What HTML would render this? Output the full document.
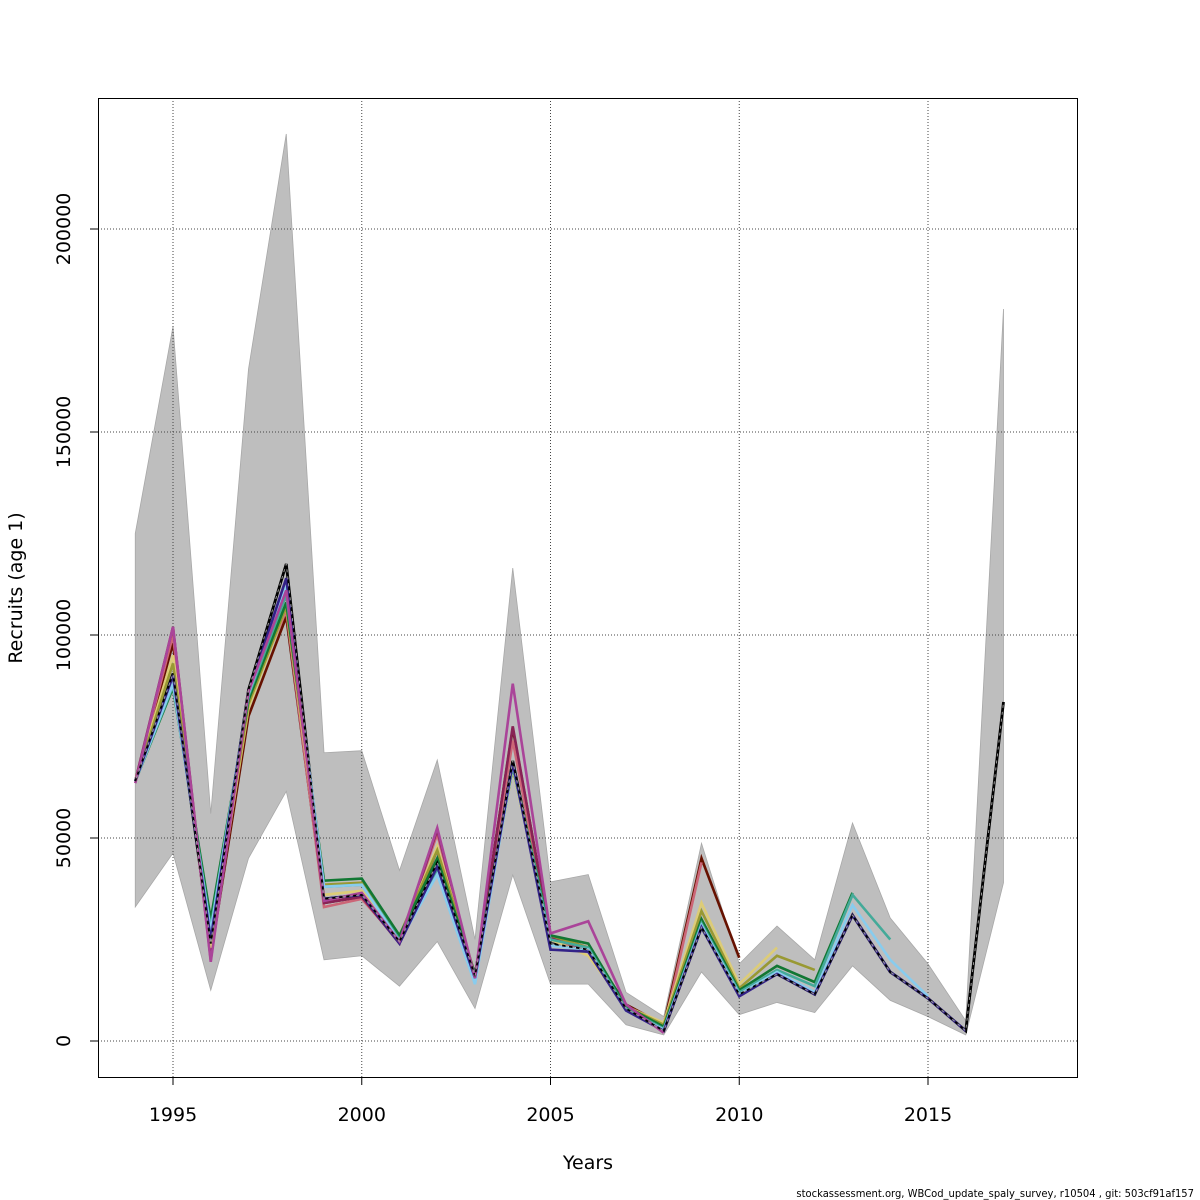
<!DOCTYPE html>
<html><head><meta charset="utf-8"><style>
html,body{margin:0;padding:0;background:#fff;}
svg{display:block;font-family:"DejaVu Sans","Liberation Sans",sans-serif;}
</style></head><body>
<svg id="chart" width="1200" height="1200" viewBox="0 0 1200 1200" xmlns="http://www.w3.org/2000/svg">
<rect width="1200" height="1200" fill="#fff"/>
<g id="band"></g>
<g id="grid"></g>
<g id="series"></g>
<rect x="98.5" y="98.5" width="979" height="979" fill="none" stroke="#000" stroke-width="1"/>
<g id="axes"></g>
<text x="588" y="1169" font-size="19" text-anchor="middle">Years</text>
<text transform="translate(22,588) rotate(-90)" font-size="19" text-anchor="middle">Recruits (age 1)</text>
<text x="1194" y="1197" font-size="10.5" text-anchor="end" transform="translate(1194,0) scale(0.95,1) translate(-1194,0)">stockassessment.org, WBCod_update_spaly_survey, r10504 , git: 503cf91af157</text>
</svg>
<script>
const years = [1994,1995,1996,1997,1998,1999,2000,2001,2002,2003,2004,2005,2006,2007,2008,2009,2010,2011,2012,2013,2014,2015,2016,2017];
const upper = [125000,176000,56000,165500,223400,71000,71500,42000,69200,25000,116500,39200,41000,12000,6000,48700,19000,28300,20000,53700,30300,19000,5000,180300];
const lower = [33000,46300,12500,45000,61500,20000,21000,13500,24500,8000,40900,14000,14000,4000,1500,17000,6500,9500,7000,18500,10000,6000,1500,39000];
const xTicks = [1995,2000,2005,2010,2015];
const yTicks = [0,50000,100000,150000,200000];
const yTickLabels = ["0","50000","100000","150000","200000"];
const seriesNames = ["darkred","rose","wine","sand","olive","green","teal","lightblue","navy","purple"];
const seriesColors = ["#661100","#CC6677","#882255","#DDCC77","#999933","#117733","#44AA99","#88CCEE","#332288","#AA4499"];
const sDarkred  = [64000,98000,21000,80000,104500,34000,35500,25000,47000,16000,77000,26000,23000,9000,4000,45000,20500];
const sRose     = [64000,100000,20500,84000,106000,33000,35000,24500,51000,15500,74000,25000,22500,8500,3000,44000];
const sWine     = [64000,102000,20000,86000,110000,34000,35500,24000,52000,15000,77500,25500,22500,8000,2500];
const sSand     = [64000,95000,23000,82000,107000,36000,37000,25500,48000,16000,67000,25000,21000,8500,4500,34000,14000,23000];
const sOlive    = [64000,93000,24500,83000,107000,38500,39000,26000,47000,16500,68000,26000,23000,8500,4000,32000,13000,21000,17500];
const sGreen    = [64000,87000,30000,84000,108000,39500,40000,26000,45000,16500,67500,26000,24000,8500,3500,30000,12500,18500,14500,36500];
const sTeal     = [64000,87500,28000,85000,110000,38000,38500,25000,42000,15500,68000,25000,23000,8000,3000,29000,12000,17500,13500,36000,25000];
const sLightblue= [64000,88000,27000,85500,112000,38000,38500,24500,41000,14000,68000,23500,22500,7500,2800,28500,11500,17000,12000,33500,20000,11000];
const sNavy     = [64000,90000,25000,86000,114000,35000,36000,24000,43000,15500,68500,22500,22000,7500,2500,28000,11000,16500,11500,31000,17000,10500,2500];
const sPurple   = [63500,102000,19500,86000,111000,34500,36500,24500,52500,15500,88000,26500,29500,9000,2000];
const sBase     = [64000,90500,24000,86500,117500,35000,36000,24500,44000,16000,69000,24000,22500,8000,2500,28000,11500,16500,11500,31000,17000,10500,2500,83500];
const allSeries = [sDarkred,sRose,sWine,sSand,sOlive,sGreen,sTeal,sLightblue,sNavy,sPurple];

const NS="http://www.w3.org/2000/svg";
const X0=98,X1=1077,Y0=1077,Y1=98;
const xMin=1993.013,xMax=2018.947,yMin=-8867,yMax=232266;
function xs(v){return X0+(v-xMin)/(xMax-xMin)*(X1-X0);}
function ys(v){return Y0-(v-yMin)/(yMax-yMin)*(Y0-Y1);}
function mk(tag,attrs,parent){const e=document.createElementNS(NS,tag);for(const k in attrs)e.setAttribute(k,attrs[k]);parent.appendChild(e);return e;}

const bandG=document.getElementById('band');
let pts=years.map((y,i)=>xs(y)+","+ys(upper[i]));
for(let i=years.length-1;i>=0;i--)pts.push(xs(years[i])+","+ys(lower[i]));
const band=mk('polygon',{points:pts.join(" "),fill:"#bebebe",stroke:"#a8a8a8","stroke-width":"0.8"},bandG);



const gridG=document.getElementById('grid');
xTicks.forEach(t=>{const l=mk('line',{x1:xs(t),x2:xs(t),y1:Y1,y2:Y0,stroke:"#444","stroke-width":"1","stroke-dasharray":"1,2"},gridG);

});
yTicks.forEach(t=>{const l=mk('line',{x1:X0,x2:X1,y1:ys(t),y2:ys(t),stroke:"#444","stroke-width":"1","stroke-dasharray":"1,2"},gridG);

});

const sG=document.getElementById('series');
const basePts=sBase.map((v,i)=>xs(years[i])+","+ys(v)).join(" ");
const bu=mk('polyline',{points:basePts,fill:"none",stroke:"#000","stroke-width":"2.8"},sG);


allSeries.forEach((s,k)=>{
  const p=s.map((v,i)=>xs(years[i])+","+ys(v)).join(" ");
  const pl=mk('polyline',{points:p,fill:"none",stroke:seriesColors[k],"stroke-width":"2.6"},sG);
  
  
});
const bd=mk('polyline',{points:basePts,fill:"none",stroke:"#000","stroke-width":"1.8","stroke-dasharray":"4,3"},sG);


const bg=mk('polyline',{points:basePts,fill:"none",stroke:"#9a9a9a","stroke-width":"1","stroke-dasharray":"3,4","stroke-dashoffset":"4"},sG);



const aG=document.getElementById('axes');
xTicks.forEach(t=>{const l=mk('line',{x1:xs(t),x2:xs(t),y1:Y0,y2:Y0+8,stroke:"#000"},aG);


const tx=mk('text',{x:xs(t),y:1121,"font-size":"19","text-anchor":"middle"},aG);tx.textContent=t;

});
yTicks.forEach((t,i)=>{const l=mk('line',{x1:X0-8,x2:X0,y1:ys(t),y2:ys(t),stroke:"#000"},aG);


const tx=mk('text',{transform:"translate(70,"+ys(t)+") rotate(-90)","font-size":"19","text-anchor":"middle"},aG);tx.textContent=yTickLabels[i];

});
</script>
</body></html>
